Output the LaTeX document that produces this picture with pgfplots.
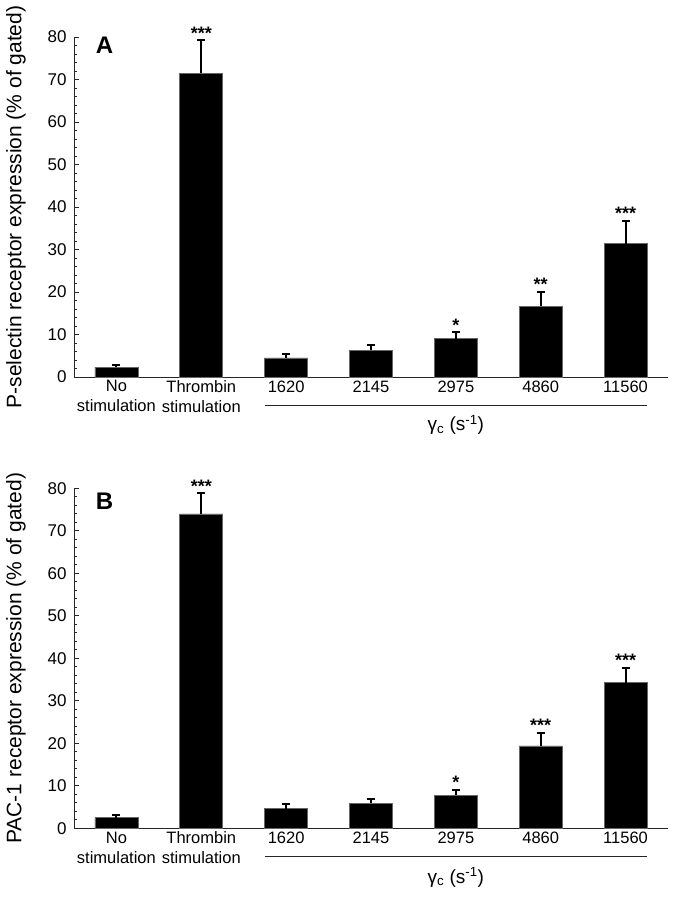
\documentclass[border=0pt]{standalone}
\usepackage{pgfplots}
\pgfplotsset{compat=1.18}
\usepackage{pgfplotstable}
\usepackage{fontspec}
\setmainfont{Liberation Sans}

\pgfplotstableread{
x y err
0 2.3 0.6
1 71.5 7.7
2 4.5 1.0
3 6.3 1.2
4 9.0 1.5
5 16.7 3.3
6 31.4 5.3
}\dataA

\pgfplotstableread{
x y err
0 2.5 0.6
1 74.0 4.8
2 4.6 1.1
3 5.9 1.1
4 7.8 1.2
5 19.4 3.1
6 34.3 3.5
}\dataB

\pgfplotsset{
 panel/.style={
  anchor=south west, width=594pt, height=340pt, scale only axis,
  xmin=-0.5, xmax=6.5, ymin=0, ymax=80,
  axis x line*=bottom, axis y line*=left,
  axis line style={black!85, line width=0.9pt},
  xtick={0,...,6},
  xticklabels={{No\\stimulation},{Thrombin\\stimulation},1620,2145,2975,4860,11560},
  xticklabel style={align=center, font=\fontsize{16.5}{20}\selectfont},
  x tick style={draw=none},
  ytick={0,10,...,80}, minor y tick num=4,
  tick align=inside, major tick length=5pt, minor tick length=3pt,
  y tick style={black!85, line width=0.8pt},
  yticklabel style={font=\fontsize{17}{19}\selectfont, xshift=-4pt},
  /pgf/number format/assume math mode=true,
  clip=false,
  every axis y label/.style={at={(axis description cs:-0.0976,0.5)}, rotate=90, anchor=center, font=\fontsize{21}{24}\selectfont},
 },
 bars/.style={ybar, bar shift=0pt, bar width=43pt, fill=black, draw=black!60, line width=0.6pt,
  error bars/.cd, y dir=plus, y explicit,
  error bar style={line width=2pt, black},
  error mark options={rotate=90, mark size=4pt, line width=2pt, black}},
 stars/.style={draw=none, mark=none, nodes near coords, point meta=explicit symbolic,
  every node near coord/.append style={anchor=south, inner sep=1pt, font=\bfseries\fontsize{18}{20}\selectfont}},
}

\begin{document}
\begin{tikzpicture}
\path[use as bounding box] (0pt,0pt) rectangle (674pt,900pt);

\begin{axis}[panel, at={(74pt,523pt)}, ylabel={P-selectin receptor expression (\% of gated)}]
\addplot[bars] table[x=x, y=y, y error=err] {\dataA};
\addplot[stars] coordinates {(1,79.2) [***] (4,10.5) [*] (5,20.0) [**] (6,36.7) [***]};
\draw[black!85, line width=0.9pt] ([yshift=-28pt]axis cs:1.745,0) -- ([yshift=-28pt]axis cs:6.255,0);
\node[font=\fontsize{19}{22}\selectfont] at ([yshift=-48pt]axis cs:4,0) {γ\textsubscript{c} (s\textsuperscript{-1})};
\node[font=\bfseries\fontsize{24}{26}\selectfont] at (axis description cs:0.0513,0.977) {A};
\end{axis}

\begin{axis}[panel, at={(74pt,71.7pt)}, ylabel={PAC-1 receptor expression (\% of gated)}]
\addplot[bars] table[x=x, y=y, y error=err] {\dataB};
\addplot[stars] coordinates {(1,78.8) [***] (4,9.0) [*] (5,22.5) [***] (6,37.8) [***]};
\draw[black!85, line width=0.9pt] ([yshift=-28.5pt]axis cs:1.745,0) -- ([yshift=-28.5pt]axis cs:6.255,0);
\node[font=\fontsize{19}{22}\selectfont] at ([yshift=-49pt]axis cs:4,0) {γ\textsubscript{c} (s\textsuperscript{-1})};
\node[font=\bfseries\fontsize{24}{26}\selectfont] at (axis description cs:0.0513,0.963) {B};
\end{axis}
\end{tikzpicture}
\end{document}
